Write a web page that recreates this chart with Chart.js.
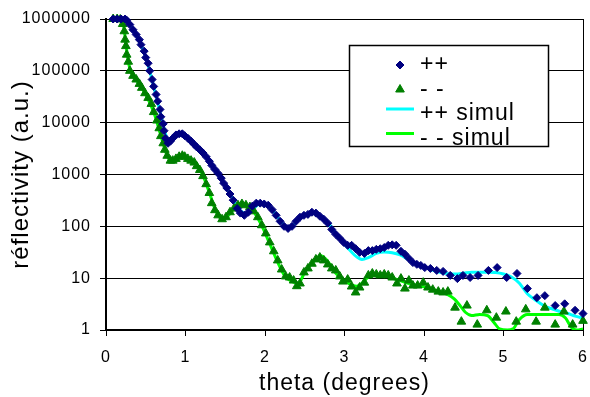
<!DOCTYPE html>
<html>
<head>
<meta charset="utf-8">
<title>réflectivity vs theta</title>
<script src="https://cdn.jsdelivr.net/npm/chart.js@4.4.1/dist/chart.umd.min.js"></script>
<style>
  html, body { margin: 0; padding: 0; background: #fff; }
  canvas { display: block; }
</style>
</head>
<body>
<canvas id="reflChart" width="590" height="397"></canvas>
<script>
// measured reflectivity, ++ polarisation
const thetaPP = [0.09,0.14,0.19,0.24,0.26,0.30,0.34,0.38,0.42,0.44,0.48,0.50,0.53,0.55,0.58,0.60,0.63,0.65,0.68,0.69,0.72,0.73,0.75,0.78,0.81,0.84,0.88,0.92,0.96,0.99,1.03,1.07,1.11,1.14,1.18,1.22,1.26,1.30,1.33,1.37,1.41,1.45,1.48,1.52,1.56,1.60,1.65,1.69,1.74,1.79,1.84,1.89,1.94,1.99,2.04,2.09,2.14,2.19,2.24,2.29,2.34,2.39,2.44,2.49,2.54,2.59,2.64,2.69,2.74,2.79,2.84,2.89,2.94,2.99,3.04,3.09,3.14,3.19,3.25,3.30,3.35,3.40,3.45,3.50,3.55,3.60,3.65,3.71,3.76,3.81,3.86,3.91,3.96,4.01,4.08,4.16,4.24,4.33,4.42,4.49,4.58,4.68,4.81,4.92,5.04,5.17,5.30,5.42,5.52,5.65,5.77,5.90,6.00];
const reflPP = [1e6,1e6,1e6,1e6,950000,780000,620000,500000,400000,320000,240000,180000,140000,100000,68000,50000,35000,26000,18000,13000,9500,7000,5000,4000,4400,5000,5800,6100,6100,5600,5000,4400,3800,3400,3000,2600,2200,1800,1500,1250,1050,850,680,550,420,320,220,180,163,187,245,280,280,270,255,210,163,125,100,91,100,125,150,163,170,187,180,157,137,115,87,70,59,49,43,43,37,31.5,30,34,34,36,37,39,43,44,43,33,29,24,20,18.5,17.6,16,15.4,14.1,13.5,11.3,9.8,11.3,10.3,11.3,14.1,16,10.3,12.3,6.3,4.2,4.6,2.96,3.2,2.4,2.07];

// measured reflectivity, -- polarisation
const thetaMM = [0.09,0.14,0.18,0.21,0.23,0.24,0.25,0.26,0.28,0.30,0.34,0.38,0.42,0.45,0.49,0.53,0.57,0.60,0.64,0.67,0.69,0.72,0.74,0.77,0.81,0.84,0.88,0.92,0.96,0.99,1.03,1.07,1.11,1.14,1.18,1.22,1.26,1.30,1.33,1.37,1.41,1.46,1.51,1.56,1.61,1.66,1.71,1.76,1.81,1.86,1.91,1.96,2.01,2.06,2.11,2.16,2.21,2.26,2.31,2.36,2.40,2.44,2.49,2.54,2.59,2.64,2.69,2.74,2.79,2.84,2.89,2.94,2.98,3.04,3.09,3.14,3.19,3.25,3.30,3.35,3.40,3.45,3.50,3.55,3.60,3.66,3.71,3.76,3.81,3.86,3.92,3.99,4.05,4.11,4.18,4.24,4.30,4.39,4.47,4.54,4.67,4.79,4.91,5.03,5.16,5.28,5.41,5.52,5.65,5.76,5.87,6.00];
const reflMM = [1e6,1e6,980000,800000,580000,400000,300000,205000,150000,100000,80000,68000,56000,47000,37000,30000,23000,16000,11000,7800,5500,4000,3000,2300,1850,1850,2000,2200,2300,2200,2000,1850,1700,1450,1220,930,650,440,280,205,163,137,150,187,220,255,270,255,235,195,150,105,73,49,33,22,14.7,10.8,10.3,9.0,7.0,7.9,12.9,15.4,19,23,25,22,18.4,15.4,14.1,10.8,8.6,9.4,6.9,5.3,6.6,8.2,11.3,12.3,11.8,11.3,11.8,11.3,10.3,7.9,9.8,6.3,9.0,7.2,7.2,8.2,6.6,6.0,5.5,5.3,5.5,2.7,1.45,2.96,1.27,2.4,1.73,2.27,1.45,2.5,1.45,2.7,1.27,2.27,1.27,1.5];

// simulated curves
const thetaSimPP = [0.10,0.20,0.25,0.30,0.35,0.40,0.45,0.50,0.55,0.60,0.65,0.70,0.75,0.79,0.84,0.90,0.96,1.02,1.10,1.20,1.30,1.40,1.50,1.60,1.66,1.72,1.78,1.84,1.90,1.97,2.04,2.10,2.16,2.22,2.28,2.34,2.40,2.48,2.56,2.63,2.70,2.80,2.90,3.00,3.08,3.15,3.22,3.30,3.40,3.50,3.60,3.70,3.80,3.90,4.00,4.10,4.20,4.30,4.40,4.50,4.60,4.70,4.80,4.90,5.00,5.10,5.20,5.30,5.40,5.50,5.60,5.70,5.80,5.90,6.00];
const reflSimPP = [1e6,1e6,950000,780000,600000,430000,290000,180000,100000,50000,25000,12000,6000,4300,4600,5700,6000,5400,4200,2900,1900,1100,620,330,230,185,175,200,255,270,250,200,150,115,96,100,125,160,178,175,160,115,70,45,33,26,23,25,30,32,31,28,23,19,16.5,14.5,13,12.2,12,12.5,13,13,13,12.8,12,10.5,8,5,3.8,3,2.6,2.3,2.1,1.85,1.7];
const thetaSimMM = [0.10,0.20,0.23,0.26,0.30,0.40,0.50,0.60,0.70,0.76,0.82,0.90,0.98,1.05,1.15,1.22,1.30,1.38,1.45,1.52,1.60,1.70,1.78,1.85,1.95,2.05,2.15,2.25,2.35,2.42,2.50,2.60,2.70,2.78,2.90,3.00,3.08,3.15,3.22,3.30,3.40,3.50,3.60,3.70,3.80,3.90,4.00,4.10,4.20,4.30,4.38,4.45,4.52,4.60,4.70,4.80,4.88,4.95,5.05,5.12,5.20,5.30,5.40,5.50,5.60,5.70,5.78,5.85,5.92,6.00];
const reflSimMM = [1e6,980000,600000,250000,110000,60000,35000,16000,5000,2500,1800,2100,2300,2000,1450,950,450,200,140,150,210,260,250,200,110,50,22,11,8.5,8,13,20,27,22,12,9,7.5,7,8,10.5,11.5,11.5,10,9,8,7.3,6.8,6.2,5.5,4.8,4,3,2.2,1.9,2,1.9,1.4,1.05,1.0,1.05,1.6,2.0,2.0,2.0,2.0,2.0,1.7,1.15,1.0,1.05];

const seriesLabels = ['++', '- -', '++ simul', '- - simul'];
const xTicks = [0, 1, 2, 3, 4, 5, 6];
const yTicks = [1, 10, 100, 1000, 10000, 100000, 1000000];
const xTitle = 'theta (degrees)';
const yTitle = 'réflectivity (a.u.)';

const FONT = '"Liberation Sans", Arial, sans-serif';
Chart.defaults.font.family = FONT;
Chart.defaults.color = '#000';

const toPoints = (xs, ys) => xs.map((x, i) => ({ x: x, y: ys[i] }));

// the old spreadsheet text runs a little wide, so space the glyphs out
const textSpacing = {
    id: 'textSpacing',
    beforeUpdate(chart) { chart.ctx.letterSpacing = '1px'; },
    beforeDraw(chart) { chart.ctx.letterSpacing = '1px'; }
};

// framed legend sitting inside the plot, upper right
const boxLegend = {
    id: 'boxLegend',
    afterDraw(chart) {
        const { ctx, chartArea } = chart;
        const left = chartArea.left + 243;
        const top = chartArea.top + 26;
        ctx.save();
        ctx.letterSpacing = '1px';
        ctx.fillStyle = '#fff';
        ctx.fillRect(left, top, 200, 102);
        ctx.strokeStyle = '#000';
        ctx.lineWidth = 1.5;
        ctx.strokeRect(left + 0.5, top + 0.5, 199, 101);

        chart.data.datasets.forEach((ds, i) => {
            const rowY = top + 20 + i * 24.5;
            if (ds.showLine) {
                ctx.strokeStyle = ds.borderColor;
                ctx.lineWidth = ds.borderWidth;
                ctx.beginPath();
                ctx.moveTo(left + 37, rowY - 5);
                ctx.lineTo(left + 65, rowY - 5);
                ctx.stroke();
            } else {
                ctx.fillStyle = ds.backgroundColor;
                ctx.strokeStyle = ds.borderColor;
                ctx.lineWidth = 1;
                Chart.helpers.drawPoint(ctx, {
                    pointStyle: ds.pointStyle,
                    radius: ds.pointRadius,
                    rotation: 0,
                    borderWidth: 1
                }, left + 51, rowY);
            }
            ctx.fillStyle = '#000';
            ctx.font = '23px ' + FONT;
            ctx.textAlign = 'left';
            ctx.textBaseline = 'middle';
            ctx.fillText(ds.label, left + 71, rowY);
        });
        ctx.restore();
    }
};

new Chart(document.getElementById('reflChart'), {
    type: 'scatter',
    data: {
        datasets: [
            {
                label: seriesLabels[0],
                data: toPoints(thetaPP, reflPP),
                pointStyle: 'rectRot',
                pointRadius: 4,
                borderWidth: 1,
                backgroundColor: '#000080',
                borderColor: '#000080',
                showLine: false,
                clip: false
            },
            {
                label: seriesLabels[1],
                data: toPoints(thetaMM, reflMM),
                pointStyle: 'triangle',
                pointRadius: 5,
                borderWidth: 1,
                backgroundColor: '#008000',
                borderColor: '#008000',
                showLine: false,
                clip: false
            },
            {
                label: seriesLabels[2],
                data: toPoints(thetaSimPP, reflSimPP),
                showLine: true,
                pointRadius: 0,
                borderColor: '#00FFFF',
                backgroundColor: '#00FFFF',
                borderWidth: 3,
                cubicInterpolationMode: 'monotone'
            },
            {
                label: seriesLabels[3],
                data: toPoints(thetaSimMM, reflSimMM),
                showLine: true,
                pointRadius: 0,
                borderColor: '#00FF00',
                backgroundColor: '#00FF00',
                borderWidth: 3,
                cubicInterpolationMode: 'monotone'
            }
        ]
    },
    options: {
        responsive: false,
        animation: false,
        layout: { padding: { top: 19, right: 7, left: 0, bottom: 0 } },
        plugins: {
            legend: { display: false },
            tooltip: { enabled: false }
        },
        scales: {
            x: {
                type: 'linear',
                min: 0,
                max: 6,
                afterBuildTicks: s => { s.ticks = xTicks.map(v => ({ value: v })); },
                afterFit: s => {
                    s.height = 67;
                    // tick padding is vertical here, keep it out of the side margins
                    s.paddingLeft = 5;
                    s.paddingRight = 5;
                },
                ticks: { font: { size: 16 }, color: '#000', padding: 12 },
                grid: {
                    // only the right-hand frame line shows inside the plot
                    color: c => (c.tick && c.tick.value === 6 ? '#000' : 'rgba(0,0,0,0)'),
                    tickColor: '#000',
                    tickLength: 6,
                    lineWidth: 1
                },
                border: { color: '#000', width: 2 },
                title: {
                    display: true,
                    text: xTitle,
                    font: { size: 23 },
                    color: '#000',
                    padding: { top: 0, bottom: 0 }
                }
            },
            y: {
                type: 'logarithmic',
                min: 1,
                max: 1000000,
                afterBuildTicks: s => { s.ticks = yTicks.map(v => ({ value: v })); },
                afterFit: s => { s.width = 106; },
                ticks: { font: { size: 16 }, color: '#000', padding: 9, callback: v => String(v) },
                grid: { color: '#000', lineWidth: 1, tickLength: 6 },
                border: { color: '#000', width: 2 },
                title: {
                    display: true,
                    text: yTitle,
                    font: { size: 24 },
                    color: '#000',
                    padding: { top: 7, bottom: 0 }
                }
            }
        }
    },
    plugins: [textSpacing, boxLegend]
});
</script>
</body>
</html>
